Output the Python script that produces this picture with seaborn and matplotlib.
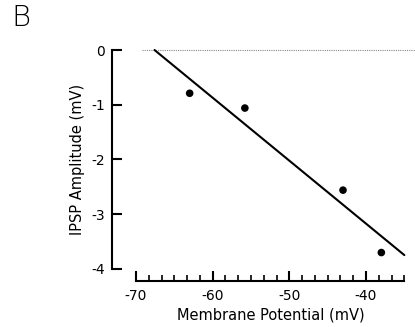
import numpy as np
import pandas as pd
import matplotlib
matplotlib.use("Agg")
import matplotlib.pyplot as plt
import seaborn as sns
from matplotlib.ticker import FixedLocator

# Data
membrane_potential = [-63.0, -55.8, -43.0, -38.0]
ipsp_amplitude = [-0.79, -1.06, -2.56, -3.70]
x_ticks = [-70, -60, -50, -40]
y_ticks = [0, -1, -2, -3, -4]

sns.set_theme(style="ticks")
plt.rcParams['font.family'] = ['DejaVu Sans']
plt.rcParams['axes.unicode_minus'] = False
plt.rcParams['text.color'] = 'black'
plt.rcParams['axes.labelcolor'] = 'black'

df = pd.DataFrame({"Vm": membrane_potential, "IPSP": ipsp_amplitude})

fig = plt.figure(figsize=(4.15, 3.27), dpi=100)
ax = fig.add_axes([112/415, 1-281/327, 1-112/415, (281-47.3)/327])

# zero reference line (dotted)
ax.axhline(0, color="#888888", lw=0.8, ls=(0, (1, 1)), xmin=0.10, xmax=1.0, zorder=1)

# regression line from y=0 to x=-35
slope, intercept = np.polyfit(df["Vm"], df["IPSP"], 1)
x0 = -intercept / slope
fit = pd.DataFrame({"Vm": [x0, -35.0]})
fit["IPSP"] = slope * fit["Vm"] + intercept
sns.lineplot(data=fit, x="Vm", y="IPSP", ax=ax, color="black", lw=1.5, zorder=2)

sns.scatterplot(data=df, x="Vm", y="IPSP", ax=ax, color="black", s=30,
                edgecolor="none", zorder=3)

ax.set_xlim(-73.13, -33.61)
ax.set_ylim(-4.22, 0.05)
ax.spines["top"].set_visible(False)
ax.spines["right"].set_visible(False)
ax.spines["left"].set_bounds(-4, 0)
ax.spines["bottom"].set_bounds(-70, -35)
for s in ("left", "bottom"):
    ax.spines[s].set_linewidth(1.5)
    ax.spines[s].set_color("black")

ax.set_xticks(x_ticks)
ax.set_xticklabels([str(v) for v in x_ticks])
ax.xaxis.set_minor_locator(FixedLocator(np.linspace(-70, -35, 22)))
ax.set_yticks(y_ticks)
ax.set_yticklabels([str(v) for v in y_ticks])

ax.tick_params(axis="x", which="major", direction="in", length=7, width=1.5,
               labelsize=10, pad=6, colors="black")
ax.tick_params(axis="x", which="minor", direction="in", length=4, width=1.2, colors="black")
ax.tick_params(axis="y", which="major", direction="in", length=7, width=1.5,
               labelsize=10, pad=5, colors="black")

ax.set_xlabel("Membrane Potential (mV)", fontsize=10.5, color="black")
ax.set_ylabel("IPSP Amplitude (mV)", fontsize=10.5, color="black")
ax.xaxis.set_label_coords(0.523, -0.115)
ax.yaxis.set_label_coords(-0.088, 0.52)

fig.text(11/415, 1-18/327, "B", fontsize=21, va="center", ha="left",
         fontweight="light", color="black")

fig.savefig("out.png", dpi=100)
